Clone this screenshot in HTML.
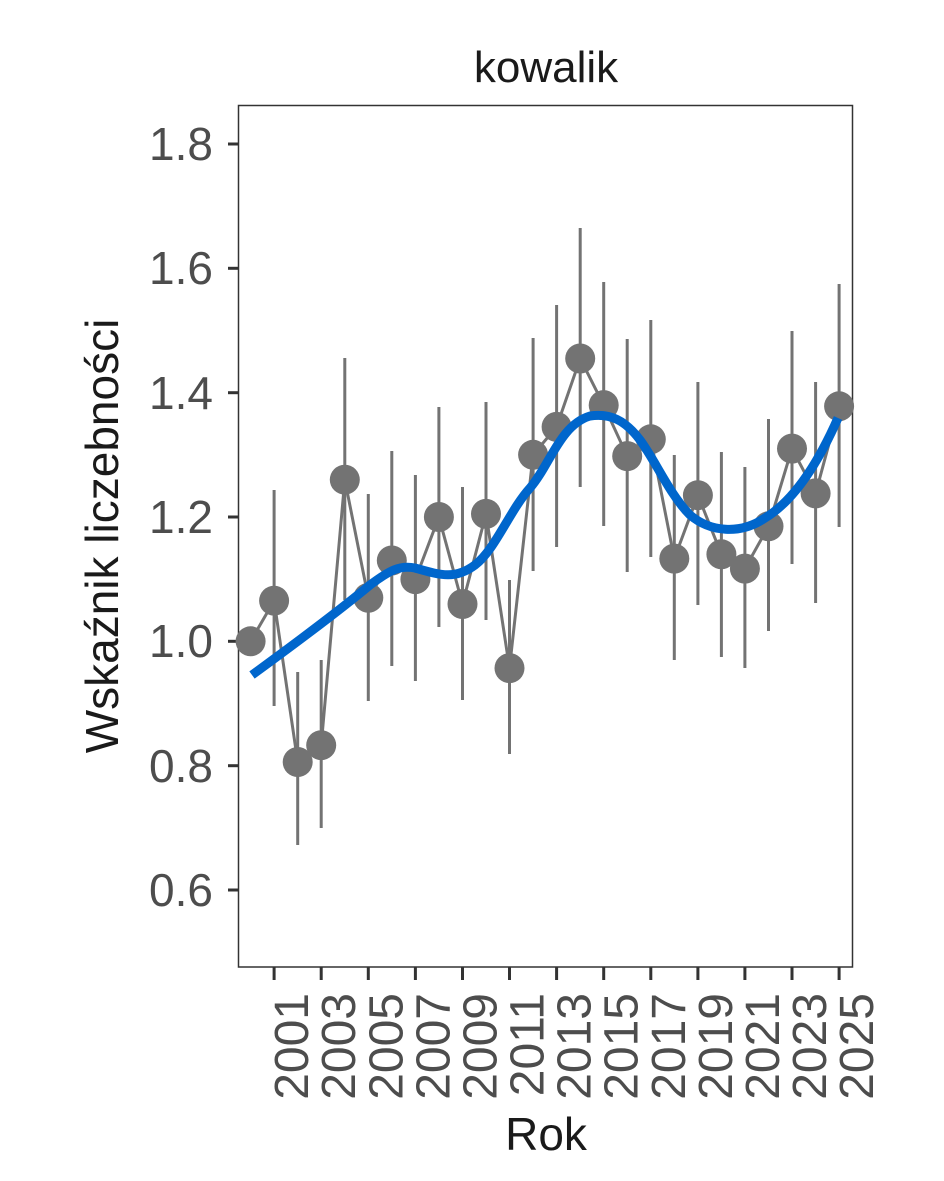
<!DOCTYPE html>
<html><head><meta charset="utf-8"><style>body{margin:0;background:#fff}svg{display:block}</style></head>
<body>
<svg width="944" height="1181" viewBox="0 0 944 1181" xmlns="http://www.w3.org/2000/svg" font-family="Liberation Sans, Arial, sans-serif">
<rect width="944" height="1181" fill="#fff"/>
<rect x="238.5" y="105.5" width="614" height="861.5" fill="none" stroke="#333" stroke-width="1.5"/>
<g stroke="#333" stroke-width="3">
<line x1="228" y1="144" x2="238" y2="144"/><line x1="228" y1="268.3" x2="238" y2="268.3"/><line x1="228" y1="392.7" x2="238" y2="392.7"/><line x1="228" y1="517" x2="238" y2="517"/><line x1="228" y1="641.3" x2="238" y2="641.3"/><line x1="228" y1="765.7" x2="238" y2="765.7"/><line x1="228" y1="890" x2="238" y2="890"/>
</g>
<g fill="#4d4d4d" font-size="46" text-anchor="end">
<text x="213" y="160">1.8</text><text x="213" y="284">1.6</text><text x="213" y="409">1.4</text><text x="213" y="533">1.2</text><text x="213" y="657">1.0</text><text x="213" y="782">0.8</text><text x="213" y="906">0.6</text>
</g>
<g stroke="#333" stroke-width="3">
<line x1="274.1" x2="274.1" y1="967" y2="980"/><line x1="321.2" x2="321.2" y1="967" y2="980"/><line x1="368.3" x2="368.3" y1="967" y2="980"/><line x1="415.4" x2="415.4" y1="967" y2="980"/><line x1="462.5" x2="462.5" y1="967" y2="980"/><line x1="509.5" x2="509.5" y1="967" y2="980"/><line x1="556.6" x2="556.6" y1="967" y2="980"/><line x1="603.7" x2="603.7" y1="967" y2="980"/><line x1="650.8" x2="650.8" y1="967" y2="980"/><line x1="697.9" x2="697.9" y1="967" y2="980"/><line x1="744.9" x2="744.9" y1="967" y2="980"/><line x1="792.0" x2="792.0" y1="967" y2="980"/><line x1="839.1" x2="839.1" y1="967" y2="980"/>
</g>
<g fill="#4d4d4d" font-size="48" text-anchor="end">
<text transform="translate(308.1,993) rotate(-90)">2001</text>
<text transform="translate(355.2,993) rotate(-90)">2003</text>
<text transform="translate(402.3,993) rotate(-90)">2005</text>
<text transform="translate(449.4,993) rotate(-90)">2007</text>
<text transform="translate(496.5,993) rotate(-90)">2009</text>
<text transform="translate(543.5,993) rotate(-90)">2011</text>
<text transform="translate(590.6,993) rotate(-90)">2013</text>
<text transform="translate(637.7,993) rotate(-90)">2015</text>
<text transform="translate(684.8,993) rotate(-90)">2017</text>
<text transform="translate(731.9,993) rotate(-90)">2019</text>
<text transform="translate(778.9,993) rotate(-90)">2021</text>
<text transform="translate(826.0,993) rotate(-90)">2023</text>
<text transform="translate(873.1,993) rotate(-90)">2025</text>
</g>
<g stroke="#737373" stroke-width="3">
<line x1="274.1" x2="274.1" y1="490" y2="706"/>
<line x1="297.7" x2="297.7" y1="672" y2="845"/>
<line x1="321.2" x2="321.2" y1="660" y2="828"/>
<line x1="344.8" x2="344.8" y1="358" y2="600"/>
<line x1="368.3" x2="368.3" y1="494" y2="701"/>
<line x1="391.8" x2="391.8" y1="451" y2="666"/>
<line x1="415.4" x2="415.4" y1="475" y2="681"/>
<line x1="438.9" x2="438.9" y1="407" y2="627"/>
<line x1="462.5" x2="462.5" y1="487" y2="700"/>
<line x1="486.0" x2="486.0" y1="402" y2="620"/>
<line x1="509.5" x2="509.5" y1="580" y2="754"/>
<line x1="533.1" x2="533.1" y1="338" y2="571"/>
<line x1="556.6" x2="556.6" y1="305" y2="547"/>
<line x1="580.2" x2="580.2" y1="228" y2="487"/>
<line x1="603.7" x2="603.7" y1="282" y2="526"/>
<line x1="627.2" x2="627.2" y1="339" y2="572"/>
<line x1="650.8" x2="650.8" y1="320" y2="557"/>
<line x1="674.3" x2="674.3" y1="455" y2="660"/>
<line x1="697.9" x2="697.9" y1="382" y2="605"/>
<line x1="721.4" x2="721.4" y1="452" y2="657"/>
<line x1="744.9" x2="744.9" y1="467" y2="668"/>
<line x1="768.5" x2="768.5" y1="419" y2="631"/>
<line x1="792.0" x2="792.0" y1="331" y2="564"/>
<line x1="815.6" x2="815.6" y1="382" y2="603"/>
<line x1="839.1" x2="839.1" y1="284" y2="527"/>
</g>
<polyline fill="none" stroke="#737373" stroke-width="3" points="250.6,641.3 274.1,600.7 297.7,762 321.2,745.2 344.8,479.7 368.3,597.8 391.8,560.5 415.4,579.2 438.9,517 462.5,604 486,513.9 509.5,668.1 533.1,454.8 556.6,426.9 580.2,358.5 603.7,405.1 627.2,456.1 650.8,439.3 674.3,558.6 697.9,495.2 721.4,554.3 744.9,568.6 768.5,526.3 792,448.6 815.6,493.4 839.1,406.3"/>
<g fill="#737373">
<circle cx="250.6" cy="641.3" r="15"/><circle cx="274.1" cy="600.7" r="15"/><circle cx="297.7" cy="762" r="15"/><circle cx="321.2" cy="745.2" r="15"/><circle cx="344.8" cy="479.7" r="15"/><circle cx="368.3" cy="597.8" r="15"/><circle cx="391.8" cy="560.5" r="15"/><circle cx="415.4" cy="579.2" r="15"/><circle cx="438.9" cy="517" r="15"/><circle cx="462.5" cy="604" r="15"/><circle cx="486" cy="513.9" r="15"/><circle cx="509.5" cy="668.1" r="15"/><circle cx="533.1" cy="454.8" r="15"/><circle cx="556.6" cy="426.9" r="15"/><circle cx="580.2" cy="358.5" r="15"/><circle cx="603.7" cy="405.1" r="15"/><circle cx="627.2" cy="456.1" r="15"/><circle cx="650.8" cy="439.3" r="15"/><circle cx="674.3" cy="558.6" r="15"/><circle cx="697.9" cy="495.2" r="15"/><circle cx="721.4" cy="554.3" r="15"/><circle cx="744.9" cy="568.6" r="15"/><circle cx="768.5" cy="526.3" r="15"/><circle cx="792" cy="448.6" r="15"/><circle cx="815.6" cy="493.4" r="15"/><circle cx="839.1" cy="406.3" r="15"/>
</g>
<path d="M252,675 C300,640 340,610 370,585 C390,570 400,565 415,568 C440,575 455,580 475,565 C495,550 510,510 530,488 C550,465 560,425 590,416 C610,413 625,420 640,440 C655,460 670,495 690,515 C710,532 740,535 765,518 C790,503 815,470 838,418" fill="none" stroke="#0066cc" stroke-width="9"/>
<text x="546" y="82" font-size="44" text-anchor="middle" fill="#1a1a1a">kowalik</text>
<text x="546" y="1150" font-size="46" text-anchor="middle" fill="#1a1a1a">Rok</text>
<text transform="translate(118,536) rotate(-90)" font-size="46" text-anchor="middle" fill="#1a1a1a">Wskaźnik liczebności</text>
</svg>
</body></html>
